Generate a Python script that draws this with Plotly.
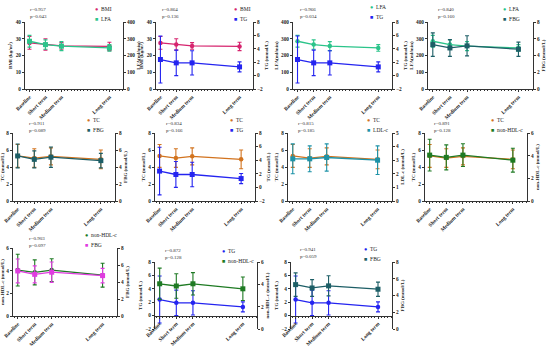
import plotly.graph_objects as go

# ---------------- data ----------------
periods = ["Baseline", "Short term", "Medium term", "Long term"]
period_pos = [0, 1, 2, 5]

bmi = [27.5, 26.6, 25.7, 25.4]
bmi_sd = [3.8, 3.4, 2.0, 2.5]
lfa = [285, 265, 256, 245]
lfa_sd = [35, 28, 27, 20]
tg = [2.4, 1.9, 1.9, 1.3]
tg_sd = [3.5, 1.9, 1.8, 0.75]
tc = [5.3, 5.05, 5.25, 4.9]
tc_sd = [1.35, 1.1, 1.0, 1.1]
fbg = [5.3, 4.9, 5.15, 4.75]
fbg_sd = [1.4, 1.0, 1.2, 0.85]
ldl = [3.1, 3.1, 3.2, 3.0]
ldl_sd = [1.1, 0.95, 1.0, 1.05]
nhdl = [4.05, 3.85, 4.05, 3.6]
nhdl_sd = [1.4, 1.1, 1.0, 1.05]

r_vals = ["0.957", "0.864", "0.966", "0.840", "0.911", "0.834", "0.815", "0.891", "0.903", "0.872", "0.941"]
p_vals = ["0.043", "0.136", "0.034", "0.160", "0.089", "0.166", "0.185", "0.128", "0.097", "0.128", "0.059"]

series = {
    "BMI": (bmi, bmi_sd),
    "LFA": (lfa, lfa_sd),
    "TG": (tg, tg_sd),
    "TC": (tc, tc_sd),
    "FBG": (fbg, fbg_sd),
    "LDL-c": (ldl, ldl_sd),
    "non-HDL-c": (nhdl, nhdl_sd),
}

# ---------------- styling ----------------
W, H = 550, 346
FONT = "Liberation Serif"
axis_style = {
    "BMI": dict(range=[0, 40], dtick=10, title="BMI (kg/m²)"),
    "LFA": dict(range=[0, 400], dtick=100, title="LFA(ml/min)"),
    "TG": dict(range=[-2, 8], dtick=2, title="TG (mmol/L)"),
    "TC": dict(range=[0, 8], dtick=2, title="TC (mmol/L)"),
    "FBG": dict(range=[0, 8], dtick=2, title="FBG (mmol/L)"),
    "LDL-c": dict(range=[0, 5], dtick=1, title="LDL-c (mmol/L)"),
    "non-HDL-c": dict(range=[0, 6], dtick=2, title="non-HDL-c (mmol/L)"),
}
colors = {
    "BMI": "#d6246e", "LFA": "#2bc48a", "TG": "#2424f0", "TC": "#d2731e",
    "FBG": "#1d5e66", "LDL-c": "#1e93a8", "non-HDL-c": "#1e7a23",
}

# panel: left var, right var, box (left, right, top, bottom px), r/p pos, legend pos
panels = [
    dict(l="BMI", r="LFA", box=(25, 123, 22, 89), txt=(28, 13), leg=(93, 9)),
    dict(l="BMI", r="TG", box=(156, 253, 22, 89), txt=(160, 13), leg=(232, 9)),
    dict(l="LFA", r="TG", box=(293, 392, 22, 89), txt=(298, 13), leg=(368, 7)),
    dict(l="LFA", r="FBG", box=(428, 533, 22, 89), txt=(436, 13), leg=(501, 9)),
    dict(l="TC", r="FBG", box=(13, 115, 133, 201), txt=(27, 127), leg=(85, 120)),
    dict(l="TC", r="TG", box=(155, 255, 133, 201), txt=(164, 127), leg=(228, 120)),
    dict(l="TC", r="LDL-c", box=(288, 392, 133, 201), txt=(296, 127), leg=(365, 120)),
    dict(l="TC", r="non-HDL-c", box=(425, 527, 133, 201), txt=(432, 127), leg=(489, 120)),
    dict(l="non-HDL-c", r="FBG", box=(13, 117, 248, 316), txt=(27, 242), leg=(83, 235), rcol="#e03ce0"),
    dict(l="TG", r="non-HDL-c", box=(155, 257, 262, 329), txt=(163, 254), leg=(220, 251), xzero=True),
    dict(l="TG", r="FBG", box=(291, 392, 262, 329), txt=(298, 253), leg=(362, 249), xzero=True),
]

fig = go.Figure()
layout = dict(
    width=W, height=H, margin=dict(l=0, r=0, t=0, b=0, autoexpand=False),
    paper_bgcolor="white", plot_bgcolor="white", showlegend=False,
    font=dict(family=FONT, size=5, color="#222"),
)
annotations = []

def fx(px):
    return px / W

def fy(py):
    return 1 - py / H

for i, pn in enumerate(panels):
    k = i + 1
    xa = "x" if k == 1 else f"x{k}"
    yl_n = 2 * k - 1
    yr_n = 2 * k
    yl = "y" if yl_n == 1 else f"y{yl_n}"
    yr = f"y{yr_n}"
    L, R, T, B = pn["box"]
    xdom = [fx(L), fx(R)]
    ydom = [fy(B), fy(T)]

    xaxis = dict(
        domain=xdom, range=[-0.28, 5.85], tickvals=period_pos,
        ticktext=[f"<b>{p}</b>" for p in periods], tickangle=-45,
        tickfont=dict(family=FONT, size=5.3, color="#222"),
        showline=True, linecolor="#333", linewidth=1, ticks="outside",
        ticklen=2, tickwidth=1, tickcolor="#333", showgrid=False, zeroline=False,
        minor=dict(dtick=0.2, ticks="outside", ticklen=1.2, tickwidth=0.8, tickcolor="#333"),
        anchor=yl, fixedrange=True, automargin=False,
    )
    lv, rv = pn["l"], pn["r"]
    la, ra = axis_style[lv], axis_style[rv]
    if pn.get("xzero"):
        lo, hi = la["range"]
        xaxis["anchor"] = "free"
        xaxis["position"] = ydom[0] + (0 - lo) / (hi - lo) * (ydom[1] - ydom[0])
    layout["xaxis" if k == 1 else f"xaxis{k}"] = xaxis

    def yax(st, side):
        d = dict(
            domain=ydom, range=st["range"], dtick=st["dtick"], anchor=xa, side=side,
            title=dict(text=f"<b>{st['title']}</b>", font=dict(family=FONT, size=5, color="#222"), standoff=2),
            tickfont=dict(family=FONT, size=5.3, color="#222"),
            tickprefix="<b>", ticksuffix="</b>",
            showline=True, linecolor="#333", linewidth=1, ticks="outside",
            ticklen=2, tickwidth=1, tickcolor="#333", showgrid=False, zeroline=False,
            fixedrange=True, automargin=False,
        )
        return d

    layout["yaxis" if yl_n == 1 else f"yaxis{yl_n}"] = yax(la, "left")
    ry = yax(ra, "right")
    ry["overlaying"] = yl
    layout[f"yaxis{yr_n}"] = ry

    lcol = colors[lv]
    rcol = pn.get("rcol", colors[rv])
    for var, col, sym, yref in ((lv, lcol, "circle", yl), (rv, rcol, "square", yr)):
        vals, sd = series[var]
        fig.add_trace(go.Scatter(
            x=period_pos, y=vals, xaxis=xa, yaxis=yref, mode="lines+markers",
            line=dict(color=col, width=1.3),
            marker=dict(color=col, symbol=sym, size=5 if sym == "square" else 4.5),
            error_y=dict(type="data", array=sd, visible=True, color=col, thickness=1.1, width=2),
            name=var, cliponaxis=False,
        ))

    # r / p text
    tx, ty = pn["txt"]
    annotations.append(dict(
        x=fx(tx), y=fy(ty), xref="paper", yref="paper", xanchor="left", yanchor="middle",
        text=f"r={r_vals[i]}<br>p={p_vals[i]}", showarrow=False, align="left",
        font=dict(family=FONT, size=5, color="#333"),
    ))
    # legend
    gx, gy = pn["leg"]
    for j, (var, col, sym) in enumerate(((lv, lcol, "●"), (rv, rcol, "■"))):
        annotations.append(dict(
            x=fx(gx), y=fy(gy + j * 10), xref="paper", yref="paper", xanchor="left", yanchor="middle",
            text=f"<span style='color:{col}'>{sym}</span>  {var}", showarrow=False,
            font=dict(family=FONT, size=5.5, color="#222"),
        ))

layout["annotations"] = annotations
fig.update_layout(**layout)
fig.write_html("out.html", config={"displayModeBar": False},
               post_script="document.body.style.margin='0';document.body.style.padding='0';")
